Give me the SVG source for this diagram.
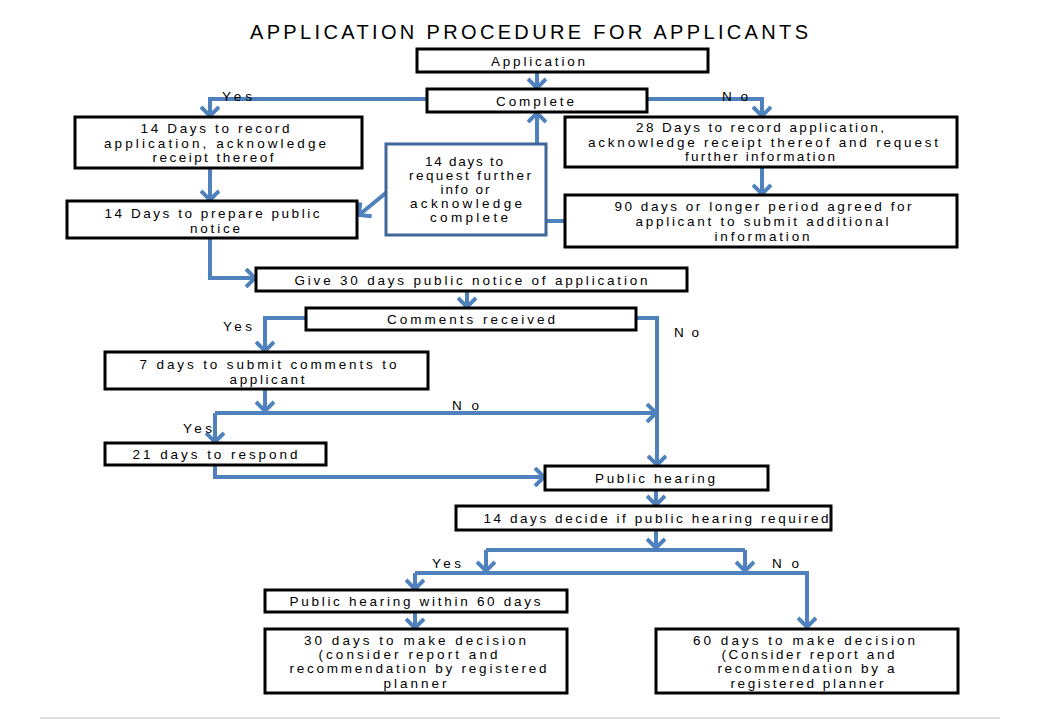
<svg xmlns="http://www.w3.org/2000/svg" width="1040" height="720" viewBox="0 0 1040 720">
<defs>
<style>
.box{fill:#fff;stroke:#000;stroke-width:3}
.bbox{fill:#fff;stroke:#41679a;stroke-width:3}
.c{fill:none;stroke:#4f81bd;stroke-width:4}
text{font-family:"Liberation Sans",Arial,sans-serif;font-size:13.5px;fill:#000}
.m{text-anchor:middle}
.t{font-size:20px}
</style>
<marker id="ah" viewBox="0 0 20 20" refX="11" refY="10" markerWidth="20" markerHeight="20" markerUnits="userSpaceOnUse" orient="auto">
<path d="M2,1 L11,10 L2,19" fill="none" stroke="#4f81bd" stroke-width="4"/>
</marker>
</defs>
<rect width="1040" height="720" fill="#fff"/>
<line x1="40" y1="718" x2="1000" y2="718" stroke="#e0e0e0" stroke-width="2"/>
<text class="t" x="250" y="39" textLength="558" lengthAdjust="spacing">APPLICATION PROCEDURE FOR APPLICANTS</text>

<g id="connectors">
<path class="c" d="M537,72 V88" marker-end="url(#ah)"/>
<path class="c" d="M427,99 H210 V116" marker-end="url(#ah)"/>
<path class="c" d="M647,99 H762 V116" marker-end="url(#ah)"/>
<path class="c" d="M210,168 V200" marker-end="url(#ah)"/>
<path class="c" d="M537,144 V113" marker-end="url(#ah)"/>
<path class="c" d="M387,192 L359,215" marker-end="url(#ah)"/>
<path class="c" d="M546,221 H565"/>
<path class="c" d="M762,167 V194" marker-end="url(#ah)"/>
<path class="c" d="M210,238 V278 H255" marker-end="url(#ah)"/>
<path class="c" d="M467,291 V307" marker-end="url(#ah)"/>
<path class="c" d="M306,318 H265 V351" marker-end="url(#ah)"/>
<path class="c" d="M636,318 H657 V465" marker-end="url(#ah)"/>
<path class="c" d="M265,389 V411" marker-end="url(#ah)"/>
<path class="c" d="M215,413 H656" marker-end="url(#ah)"/>
<path class="c" d="M215,413 V442" marker-end="url(#ah)"/>
<path class="c" d="M215,465 V477 H544" marker-end="url(#ah)"/>
<path class="c" d="M656,490 V505" marker-end="url(#ah)"/>
<path class="c" d="M656,530 V548" marker-end="url(#ah)"/>
<path class="c" d="M486,550 H745"/>
<path class="c" d="M486,550 V571" marker-end="url(#ah)"/>
<path class="c" d="M745,550 V571" marker-end="url(#ah)"/>
<path class="c" d="M415,573 H807 V627" marker-end="url(#ah)"/>
<path class="c" d="M415,573 V589" marker-end="url(#ah)"/>
<path class="c" d="M415,612 V628" marker-end="url(#ah)"/>
<text x="222" y="101" textLength="30" lengthAdjust="spacing">Yes</text>
<text x="722" y="101" textLength="26" lengthAdjust="spacing">No</text>
<text x="223" y="331" textLength="29" lengthAdjust="spacing">Yes</text>
<text x="674" y="337" textLength="25" lengthAdjust="spacing">No</text>
<text x="452" y="410" textLength="27" lengthAdjust="spacing">No</text>
<text x="183" y="433" textLength="29" lengthAdjust="spacing">Yes</text>
<text x="432" y="568" textLength="29" lengthAdjust="spacing">Yes</text>
<text x="772" y="568" textLength="27" lengthAdjust="spacing">No</text>
</g>

<g id="application">
<rect class="box" x="417" y="49" width="291" height="23"/>
<text class="m" x="538" y="66" textLength="94" lengthAdjust="spacing">Application</text>
</g>
<g id="complete">
<rect class="box" x="427" y="89" width="220" height="23"/>
<text class="m" x="535" y="106" textLength="78" lengthAdjust="spacing">Complete</text>
</g>
<g id="record14">
<rect class="box" x="75" y="117" width="287" height="51"/>
<text class="m" x="215" y="133" textLength="149" lengthAdjust="spacing">14 Days to record</text>
<text class="m" x="215" y="148" textLength="222" lengthAdjust="spacing">application, acknowledge</text>
<text class="m" x="213" y="162" textLength="121" lengthAdjust="spacing">receipt thereof</text>
</g>
<g id="prepare14">
<rect class="box" x="67" y="201" width="290" height="37"/>
<text class="m" x="212" y="218" textLength="215" lengthAdjust="spacing">14 Days to prepare public</text>
<text class="m" x="215" y="233" textLength="50" lengthAdjust="spacing">notice</text>
</g>
<g id="request14">
<rect class="bbox" x="386" y="144" width="160" height="91"/>
<text class="m" x="464" y="166" textLength="78" lengthAdjust="spacing">14 days to</text>
<text class="m" x="470" y="180" textLength="122" lengthAdjust="spacing">request further</text>
<text class="m" x="465" y="194" textLength="49" lengthAdjust="spacing">info or</text>
<text class="m" x="466" y="208" textLength="112" lengthAdjust="spacing">acknowledge</text>
<text class="m" x="469" y="222" textLength="78" lengthAdjust="spacing">complete</text>
</g>
<g id="record28">
<rect class="box" x="565" y="117" width="392" height="50"/>
<text class="m" x="760" y="132" textLength="248" lengthAdjust="spacing">28 Days to record application,</text>
<text class="m" x="763" y="147" textLength="350" lengthAdjust="spacing">acknowledge receipt thereof and request</text>
<text class="m" x="760" y="161" textLength="150" lengthAdjust="spacing">further information</text>
</g>
<g id="days90">
<rect class="box" x="565" y="195" width="392" height="52"/>
<text class="m" x="763" y="211" textLength="297" lengthAdjust="spacing">90 days or longer period agreed for</text>
<text class="m" x="762" y="226" textLength="253" lengthAdjust="spacing">applicant to submit additional</text>
<text class="m" x="762" y="241" textLength="95" lengthAdjust="spacing">information</text>
</g>
<g id="notice30">
<rect class="box" x="256" y="268" width="431" height="23"/>
<text class="m" x="471" y="285" textLength="353" lengthAdjust="spacing">Give 30 days public notice of application</text>
</g>
<g id="comments">
<rect class="box" x="306" y="308" width="330" height="22"/>
<text class="m" x="471" y="324" textLength="168" lengthAdjust="spacing">Comments received</text>
</g>
<g id="submit7">
<rect class="box" x="105" y="352" width="323" height="37"/>
<text class="m" x="268" y="369" textLength="257" lengthAdjust="spacing">7 days to submit comments to</text>
<text class="m" x="267" y="384" textLength="75" lengthAdjust="spacing">applicant</text>
</g>
<g id="respond21">
<rect class="box" x="105" y="443" width="221" height="22"/>
<text class="m" x="215" y="459" textLength="165" lengthAdjust="spacing">21 days to respond</text>
</g>
<g id="hearing">
<rect class="box" x="545" y="466" width="223" height="24"/>
<text class="m" x="655" y="483" textLength="120" lengthAdjust="spacing">Public hearing</text>
</g>
<g id="decide14">
<rect class="box" x="456" y="506" width="375" height="24"/>
<text class="m" x="656" y="523" textLength="345" lengthAdjust="spacing">14 days decide if public hearing required</text>
</g>
<g id="within60">
<rect class="box" x="265" y="590" width="302" height="22"/>
<text class="m" x="415" y="606" textLength="251" lengthAdjust="spacing">Public hearing within 60 days</text>
</g>
<g id="decide30">
<rect class="box" x="265" y="629" width="302" height="64"/>
<text class="m" x="415" y="645" textLength="222" lengthAdjust="spacing">30 days to make decision</text>
<text class="m" x="408" y="659" textLength="179" lengthAdjust="spacing">(consider report and</text>
<text class="m" x="418" y="673" textLength="257" lengthAdjust="spacing">recommendation by registered</text>
<text class="m" x="415" y="688" textLength="63" lengthAdjust="spacing">planner</text>
</g>
<g id="decide60">
<rect class="box" x="656" y="629" width="302" height="64"/>
<text class="m" x="804" y="645" textLength="222" lengthAdjust="spacing">60 days to make decision</text>
<text class="m" x="808" y="659" textLength="173" lengthAdjust="spacing">(Consider report and</text>
<text class="m" x="806" y="673" textLength="177" lengthAdjust="spacing">recommendation by a</text>
<text class="m" x="807" y="688" textLength="153" lengthAdjust="spacing">registered planner</text>
</g>
</svg>
